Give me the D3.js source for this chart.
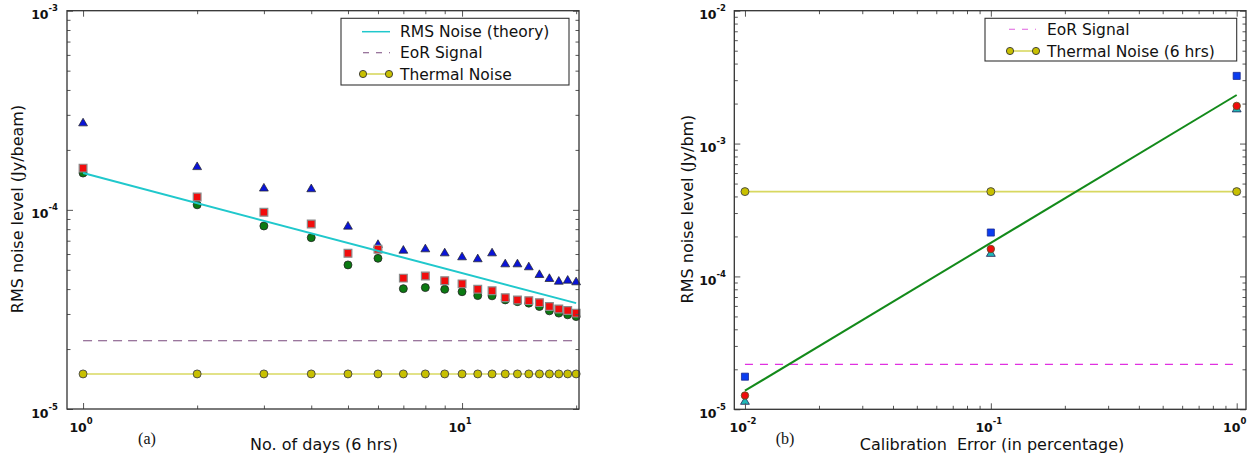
<!DOCTYPE html>
<html>
<head>
<meta charset="utf-8">
<script src="https://cdn.jsdelivr.net/npm/d3@7"></script>
<style>
  body { margin: 0; background: #fff; }
  svg text { font-family: "DejaVu Sans", sans-serif; fill: #111; }
</style>
</head>
<body>
<svg id="fig" width="1258" height="460"></svg>
<script>
// ---------- Panel (a): RMS noise vs. number of 6-hour days ----------
const days = [1, 2, 3, 4, 5, 6, 7, 8, 9, 10, 11, 12, 13, 14, 15, 16, 17, 18, 19, 20];
const rmsTriangle = [2.72e-4, 1.64e-4, 1.28e-4, 1.27e-4, 8.24e-5, 6.67e-5, 6.24e-5, 6.34e-5, 6.05e-5, 5.78e-5,
                     5.65e-5, 6.05e-5, 5.33e-5, 5.33e-5, 5.15e-5, 4.71e-5, 4.50e-5, 4.36e-5, 4.41e-5, 4.33e-5];
const rmsSquare   = [1.62e-4, 1.16e-4, 9.73e-5, 8.49e-5, 6.05e-5, 6.34e-5, 4.54e-5, 4.65e-5, 4.41e-5, 4.25e-5,
                     3.99e-5, 3.92e-5, 3.62e-5, 3.53e-5, 3.50e-5, 3.42e-5, 3.27e-5, 3.18e-5, 3.12e-5, 3.03e-5];
const rmsCircle   = [1.53e-4, 1.06e-4, 8.30e-5, 7.25e-5, 5.29e-5, 5.71e-5, 4.02e-5, 4.07e-5, 3.99e-5, 3.88e-5,
                     3.71e-5, 3.70e-5, 3.53e-5, 3.46e-5, 3.40e-5, 3.27e-5, 3.11e-5, 3.03e-5, 2.97e-5, 2.91e-5];
const theoryDays = [1, 20];
const theoryRms  = [1.53e-4, 3.40e-5];
const eorLevelA = 2.2e-5;
const thermalLevelA = 1.5e-5;
const xDomainA = [0.907, 20.35];
const yDomainA = [1e-5, 1e-3];
const xLabelsA = [[1, "0"], [10, "1"]];
const yLabelsA = [[1e-3, "-3"], [1e-4, "-4"], [1e-5, "-5"]];
const legendA = ["RMS Noise (theory)", "EoR Signal", "Thermal Noise"];

// ---------- Panel (b): RMS noise vs. calibration error ----------
const calError = [0.01, 0.1, 1];
const calSquare   = [1.76e-5, 2.14e-4, 3.23e-3];
const calCircle   = [1.27e-5, 1.61e-4, 1.92e-3];
const calTriangle = [1.14e-5, 1.48e-4, 1.81e-3];
const fitError = [0.01, 1];
const fitRms   = [1.38e-5, 2.32e-3];
const eorLevelB = 2.18e-5;
const thermalLevelB = 4.35e-4;
const xDomainB = [0.00905, 1.091];
const yDomainB = [1e-5, 1e-2];
const xLabelsB = [[0.01, "-2"], [0.1, "-1"], [1, "0"]];
const yLabelsB = [[1e-2, "-2"], [1e-3, "-3"], [1e-4, "-4"], [1e-5, "-5"]];
const legendB = ["EoR Signal", "Thermal Noise (6 hrs)"];

const svg = d3.select("#fig");

function isDecade(v) {
  const l = Math.log10(v);
  return Math.abs(l - Math.round(l)) < 1e-6;
}

// Frame, inward ticks on all four sides, and power-of-ten labels
function drawAxes(g, x, y, box, xLabs, yLabs, yLabelRight) {
  const [L, T, R, B] = box;
  const xt = x.ticks(), yt = y.ticks();
  const xMaj = xt.filter(isDecade), xMin = xt.filter(v => !isDecade(v));
  const yMaj = yt.filter(isDecade), yMin = yt.filter(v => !isDecade(v));

  const specs = [
    [d3.axisBottom, x, `translate(0,${B})`],
    [d3.axisTop, x, `translate(0,${T})`],
    [d3.axisLeft, y, `translate(${L},0)`],
    [d3.axisRight, y, `translate(${R},0)`]
  ];
  specs.forEach(([fn, sc, tr], i) => {
    const isX = i < 2;
    const maj = isX ? xMaj : yMaj, min = isX ? xMin : yMin;
    [[maj, 6], [min, 3.5]].forEach(([vals, len]) => {
      const ax = g.append("g").attr("transform", tr)
        .call(fn(sc).tickValues(vals).tickSize(-len).tickFormat(""));
      ax.select(".domain").remove();
      ax.selectAll("line").attr("stroke", "#555").attr("stroke-width", 1);
    });
  });

  g.append("rect").attr("x", L).attr("y", T).attr("width", R - L).attr("height", B - T)
    .attr("fill", "none").attr("stroke", "#333").attr("stroke-width", 1.3);

  // x labels: 10^n centred under the tick
  xLabs.forEach(([v, e]) => {
    const t = g.append("text").attr("x", x(v) - 2).attr("y", B + 23)
      .attr("text-anchor", "middle").attr("font-weight", "bold");
    t.append("tspan").attr("font-size", 12.5).text("10");
    t.append("tspan").attr("font-size", 8.5).attr("dy", -8).text(e);
  });
  // y labels: 10^n right-aligned left of the frame
  yLabs.forEach(([v, e]) => {
    const t = g.append("text").attr("x", yLabelRight).attr("y", y(v) + 8.5)
      .attr("text-anchor", "end").attr("font-weight", "bold");
    t.append("tspan").attr("font-size", 12.5).text("10");
    t.append("tspan").attr("font-size", 8.5).attr("dy", -8).text(e);
  });
}

const sym = {
  square: d3.symbol().type(d3.symbolSquare),
  circle: d3.symbol().type(d3.symbolCircle),
  triangle: d3.symbol().type(d3.symbolTriangle)
};

function markers(g, xs, ys, x, y, kind, size, fill, stroke, sw) {
  g.append("g").selectAll("path").data(xs.map((d, i) => [d, ys[i]])).join("path")
    .attr("transform", d => `translate(${x(d[0])},${y(d[1])})`)
    .attr("d", sym[kind].size(size)())
    .attr("fill", fill).attr("stroke", stroke).attr("stroke-width", sw);
}

const thermalFill = "#c8c000", thermalLine = "#d8d860";

// ================= Panel (a) =================
{
  const box = [67, 10.7, 579, 409];
  const x = d3.scaleLog().domain(xDomainA).range([box[0], box[2]]);
  const y = d3.scaleLog().domain(yDomainA).range([box[3], box[1]]);
  const g = svg.append("g");

  const line = d3.line().x(d => x(d[0])).y(d => y(d[1]));

  // thermal noise floor
  g.append("path").datum(days.map(d => [d, thermalLevelA])).attr("d", line)
    .attr("fill", "none").attr("stroke", thermalLine).attr("stroke-width", 1.6);
  markers(g, days, days.map(() => thermalLevelA), x, y, "circle", 50, thermalFill, "#444", 0.9);

  // EoR signal level
  g.append("path").datum([[days[0], eorLevelA], [days[days.length - 1], eorLevelA]]).attr("d", line)
    .attr("fill", "none").attr("stroke", "#7a4a7e").attr("stroke-width", 1.1)
    .attr("stroke-dasharray", "9,6");

  markers(g, days, rmsTriangle, x, y, "triangle", 34, "#0a14d8", "#222", 0.7);
  markers(g, days, rmsCircle, x, y, "circle", 50, "#0b7a12", "#222", 0.8);
  markers(g, days, rmsSquare, x, y, "square", 60, "#f20c0c", "#8a8a8a", 1.2);

  // theoretical noise
  g.append("path").datum(theoryDays.map((d, i) => [d, theoryRms[i]])).attr("d", line)
    .attr("fill", "none").attr("stroke", "#20c8cc").attr("stroke-width", 2);

  drawAxes(g, x, y, box, xLabelsA, yLabelsA, 58);

  // axis titles and panel tag
  g.append("text").attr("x", 324).attr("y", 450).attr("text-anchor", "middle")
    .attr("font-size", 16).text("No. of days (6 hrs)");
  g.append("text").attr("transform", "translate(23,209) rotate(-90)").attr("text-anchor", "middle")
    .attr("font-size", 16).text("RMS noise level (Jy/beam)");
  g.append("text").attr("x", 147).attr("y", 444).attr("text-anchor", "middle")
    .attr("font-size", 16).style("font-family", "'Liberation Serif', serif")
    .text("(a)");

  // legend
  const lg = g.append("g");
  lg.append("rect").attr("x", 341).attr("y", 18.3).attr("width", 228).attr("height", 66.7)
    .attr("fill", "#fff").attr("stroke", "#333").attr("stroke-width", 1.1);
  const rowY = [31.7, 52.7, 74];
  lg.append("line").attr("x1", 362).attr("x2", 390).attr("y1", rowY[0]).attr("y2", rowY[0])
    .attr("stroke", "#20c8cc").attr("stroke-width", 1.5);
  lg.append("line").attr("x1", 363).attr("x2", 390).attr("y1", rowY[1]).attr("y2", rowY[1])
    .attr("stroke", "#7a4a7e").attr("stroke-width", 1.1).attr("stroke-dasharray", "6,7");
  lg.append("line").attr("x1", 363).attr("x2", 389).attr("y1", rowY[2]).attr("y2", rowY[2])
    .attr("stroke", thermalLine).attr("stroke-width", 1.6);
  [363, 389].forEach(cx => lg.append("circle").attr("cx", cx).attr("cy", rowY[2]).attr("r", 3.6)
    .attr("fill", thermalFill).attr("stroke", "#333").attr("stroke-width", 0.9));
  legendA.forEach((t, i) => lg.append("text").attr("x", 400).attr("y", rowY[i] + 5.5)
    .attr("font-size", 15.5).text(t));
}

// ================= Panel (b) =================
{
  const box = [734.3, 10.7, 1246, 409.3];
  const x = d3.scaleLog().domain(xDomainB).range([box[0], box[2]]);
  const y = d3.scaleLog().domain(yDomainB).range([box[3], box[1]]);
  const g = svg.append("g");
  const line = d3.line().x(d => x(d[0])).y(d => y(d[1]));

  g.append("path").datum(calError.map(d => [d, thermalLevelB])).attr("d", line)
    .attr("fill", "none").attr("stroke", thermalLine).attr("stroke-width", 1.6);
  markers(g, calError, calError.map(() => thermalLevelB), x, y, "circle", 50, thermalFill, "#444", 0.9);

  g.append("path").datum([[calError[0], eorLevelB], [calError[calError.length - 1], eorLevelB]]).attr("d", line)
    .attr("fill", "none").attr("stroke", "#e030e0").attr("stroke-width", 1.1)
    .attr("stroke-dasharray", "8,7");

  g.append("path").datum(fitError.map((d, i) => [d, fitRms[i]])).attr("d", line)
    .attr("fill", "none").attr("stroke", "#138a1a").attr("stroke-width", 2);

  markers(g, calError, calSquare, x, y, "square", 50, "#0a3cf0", "#1a2a90", 0.8);
  markers(g, calError, calTriangle, x, y, "triangle", 34, "#20b8b8", "#225", 0.8);
  markers(g, calError, calCircle, x, y, "circle", 44, "#f00c0c", "#552", 0.8);

  drawAxes(g, x, y, box, xLabelsB, yLabelsB, 726);

  g.append("text").attr("x", 992).attr("y", 450).attr("text-anchor", "middle")
    .attr("font-size", 16).style("white-space", "pre").text("Calibration  Error (in percentage)");
  g.append("text").attr("transform", "translate(693,209) rotate(-90)").attr("text-anchor", "middle")
    .attr("font-size", 16).text("RMS noise level (Jy/bm)");
  g.append("text").attr("x", 785).attr("y", 444).attr("text-anchor", "middle")
    .attr("font-size", 16).style("font-family", "'Liberation Serif', serif").text("(b)");

  const lg = g.append("g");
  lg.append("rect").attr("x", 985).attr("y", 18.3).attr("width", 251.7).attr("height", 42.7)
    .attr("fill", "#fff").attr("stroke", "#333").attr("stroke-width", 1.1);
  const rowY = [29.3, 51];
  lg.append("line").attr("x1", 1009).attr("x2", 1036).attr("y1", rowY[0]).attr("y2", rowY[0])
    .attr("stroke", "#e060e0").attr("stroke-width", 1.1).attr("stroke-dasharray", "6,7");
  lg.append("line").attr("x1", 1010).attr("x2", 1036).attr("y1", rowY[1]).attr("y2", rowY[1])
    .attr("stroke", thermalLine).attr("stroke-width", 1.6);
  [1010, 1036].forEach(cx => lg.append("circle").attr("cx", cx).attr("cy", rowY[1]).attr("r", 3.6)
    .attr("fill", thermalFill).attr("stroke", "#333").attr("stroke-width", 0.9));
  legendB.forEach((t, i) => lg.append("text").attr("x", 1047).attr("y", rowY[i] + 5.5)
    .attr("font-size", 15.5).text(t));
}
</script>
</body>
</html>
